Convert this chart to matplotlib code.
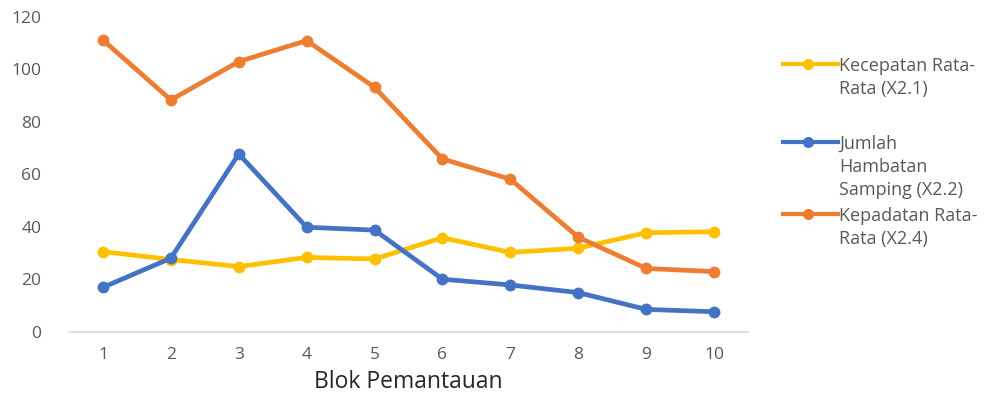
import matplotlib
matplotlib.use("Agg")
import matplotlib.pyplot as plt
from matplotlib.lines import Line2D

plt.rcParams['font.family'] = ['Open Sans', 'DejaVu Sans']

blok = [1, 2, 3, 4, 5, 6, 7, 8, 9, 10]
kecepatan = [30.5, 27.5, 24.8, 28.3, 27.7, 35.8, 30.2, 31.8, 37.7, 38.1]
hambatan = [16.9, 28.0, 67.7, 39.8, 38.7, 20.0, 17.8, 14.9, 8.5, 7.6]
kepadatan = [111.1, 88.3, 102.9, 110.9, 93.1, 65.8, 58.1, 36.0, 24.1, 22.9]

labels = ["Kecepatan Rata-\nRata (X2.1)",
          "Jumlah\nHambatan\nSamping (X2.2)",
          "Kepadatan Rata-\nRata (X2.4)"]
colors = ["#FFC000", "#4472C4", "#ED7D31"]
yticks = [0, 20, 40, 60, 80, 100, 120]

W, H = 998, 399
fig = plt.figure(figsize=(W / 100, H / 100), dpi=100)
ax = fig.add_axes([69 / W, (H - 331.7) / H, (748 - 69) / W, (331.7 - 16.7) / H])

for series, c in zip([kecepatan, hambatan, kepadatan], colors):
    ax.plot(blok, series, color=c, lw=3.4, marker='o', ms=7.5,
            solid_capstyle='round', solid_joinstyle='round')

ax.set_xlim(0.5, 10.5)
ax.set_ylim(0, 120)
ax.set_xticks(blok)
ax.set_yticks(yticks)
ax.tick_params(length=0, labelsize=12.5, colors='#595959', pad=11)
ax.tick_params(axis='y', pad=20)
for s in ['top', 'right', 'left']:
    ax.spines[s].set_visible(False)
ax.spines['bottom'].set_color('#d9d9d9')
ax.spines['bottom'].set_linewidth(1.2)
ax.set_xlabel("Blok Pemantauan", fontsize=16.5, color='#262626', labelpad=5)

# legend drawn at the right side, handles aligned with each label's first line
handle_y = [64, 142, 214]
for y, c, lab in zip(handle_y, colors, labels):
    fig.add_artist(Line2D([783 / W, 838 / W], [(H - y) / H] * 2, color=c, lw=3,
                          transform=fig.transFigure))
    fig.add_artist(Line2D([808 / W], [(H - y) / H], color=c, marker='o', ms=7,
                          transform=fig.transFigure))
    fig.text(839 / W, (H - y + 7) / H, lab, fontsize=13, color='#595959',
             va='top', ha='left', linespacing=1.35)

fig.savefig("out.png", dpi=100, facecolor='white')
